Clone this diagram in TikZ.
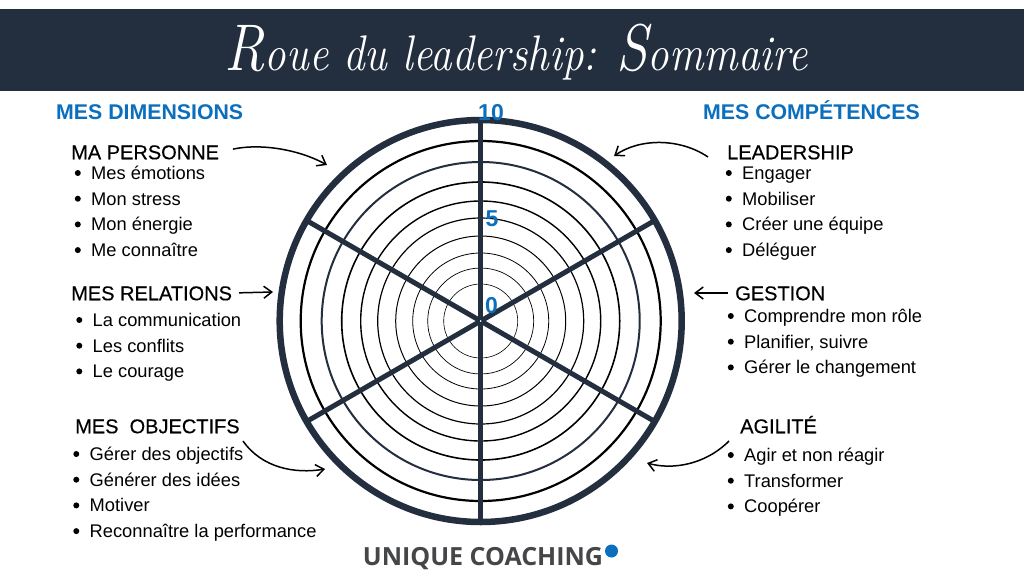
\documentclass[tikz,border=0pt]{standalone}
\usepackage{fontspec}
\setmainfont{Liberation Sans}
\usetikzlibrary{positioning,arrows.meta,calc}
\definecolor{navy}{HTML}{232E3F}
\definecolor{bleu}{HTML}{0B6FBD}
\definecolor{gris}{HTML}{444648}
\newfontfamily\titlefont{Latin Modern Roman}
\newfontfamily\logofont{Open Sans}
\newfontfamily\headfont[FakeBold=0.35]{Liberation Sans}
\newcommand{\titlecap}[1]{{\fontsize{66}{66}\selectfont #1}}
\tikzset{
	head/.style={anchor=west, inner sep=0pt, text height=14.5pt, text depth=0pt, font=\fontsize{20}{22}\selectfont\headfont},
	dim/.style={anchor=west, inner sep=0pt, text height=15.5pt, text depth=0pt, text=bleu, font=\fontsize{21.3}{24}\selectfont\bfseries},
	entry/.style={anchor=west, inner sep=0pt, text height=13pt, text depth=0pt, font=\fontsize{18.3}{20}\selectfont,
		label={[circle, fill, inner sep=0pt, minimum size=6pt, label distance=10pt]left:{}}},
	score/.style={inner sep=0pt, text=bleu, font=\fontsize{23}{24}\selectfont\bfseries},
	spoke/.style={line width=5pt, navy},
	hand/.style={-{Straight Barb[length=8pt,width=12pt]}, line width=1.5pt}
}
\begin{document}
\begin{tikzpicture}[x=1pt, y=-1pt]
	\useasboundingbox (0,0) rectangle (1024,576);
	\fill[white] (0,0) rectangle (1024,576);
	\fill[navy] (0,9) rectangle (1024,91);
	\node[anchor=base, inner sep=0pt, text=white, font=\fontsize{50}{60}\selectfont\titlefont\itshape] (title) at (516,70) {\scalebox{0.86}[1]{\titlecap{R}oue du leadership: \titlecap{S}ommaire}};

	% wheel
	\node[inner sep=0pt] (c) at (480.7,321) {};
	\foreach \r/\w in {37/0.6, 53/0.7, 68/0.8, 85/1, 103/1.2, 120/1.4, 139/1.6, 180/2.2}
		\draw[line width=\w pt] (c) circle (\r);
	\draw[navy, line width=2pt] (c) circle (159);
	\draw[navy, line width=6.5pt] (c) circle (201);
	\foreach \a in {30,90,...,330} {
		\coordinate (s\a) at ($(c)+(\a:201)$);
		\draw[spoke] (c) -- (s\a);
	}
	\node[score] (s10) at (491,113) {10};
	\node[score] (s5) at (492,219) {5};
	\node[score] (s0) at (491.5,306) {0};

	% left
	\node[dim] (dims) at (56,112) {MES DIMENSIONS};
	\node[head] (personne) at (71,152) {MA PERSONNE};
	\foreach \t [count=\i] in {Mes émotions,Mon stress,Mon énergie,Me connaître}
		\node[entry] (p\i) at (91,{173+(\i-1)*25.7}) {\t};
	\node[head] (relations) at (71,293) {MES RELATIONS};
	\foreach \t [count=\i] in {La communication,Les conflits,Le courage}
		\node[entry] (r\i) at (92.5,{320+(\i-1)*25.7}) {\t};
	\node[head] (objectifs) at (75,426) {MES\ \ OBJECTIFS};
	\foreach \t [count=\i] in {Gérer des objectifs,Générer des idées,Motiver,Reconnaître la performance}
		\node[entry] (o\i) at (89.5,{454+(\i-1)*25.7}) {\t};

	% right
	\node[dim] (comps) at (703,112) {MES COMPÉTENCES};
	\node[head] (leader) at (727,152) {LEADERSHIP};
	\foreach \t [count=\i] in {Engager,Mobiliser,Créer une équipe,Déléguer}
		\node[entry] (l\i) at (742,{173+(\i-1)*25.7}) {\t};
	\node[head] (gestion) at (735,293) {GESTION};
	\foreach \t [count=\i] in {Comprendre mon rôle,{Planifier, suivre},Gérer le changement}
		\node[entry] (g\i) at (744,{316+(\i-1)*25.7}) {\t};
	\node[head] (agilite) at (740,426) {AGILITÉ};
	\foreach \t [count=\i] in {Agir et non réagir,Transformer,Coopérer}
		\node[entry] (a\i) at (744,{455+(\i-1)*25.7}) {\t};

	% arrows
	\coordinate (t1) at (327,165);
	\coordinate (t2) at (614,156);
	\coordinate (t3) at (273,292);
	\coordinate (t4) at (694,293);
	\coordinate (t5) at (325,469);
	\coordinate (t6) at (647,463);
	\coordinate (f2) at (708,157);
	\coordinate (f5) at (243,441);
	\coordinate (f6) at (729,441);
	\draw[hand, shorten <=14pt] (personne.east) .. controls (262,143) and (300,150) .. (t1);
	\draw[hand] (f2) .. controls (680,138) and (640,138) .. (t2);
	\draw[hand, shorten <=7pt] (relations.east) -- (t3);
	\draw[hand, shorten <=7pt] (gestion.west) -- (t4);
	\draw[hand] (f5) .. controls (262,468) and (295,474) .. (t5);
	\draw[hand] (f6) .. controls (705,465) and (672,470) .. (t6);

	% logo
	\node[inner sep=0pt, text=gris, font=\fontsize{25}{28}\selectfont\logofont\bfseries] (logo) at (483,559) {UNIQUE COACHING};
	\fill[bleu] (611.5,551) circle (6.5);
\end{tikzpicture}
\end{document}
